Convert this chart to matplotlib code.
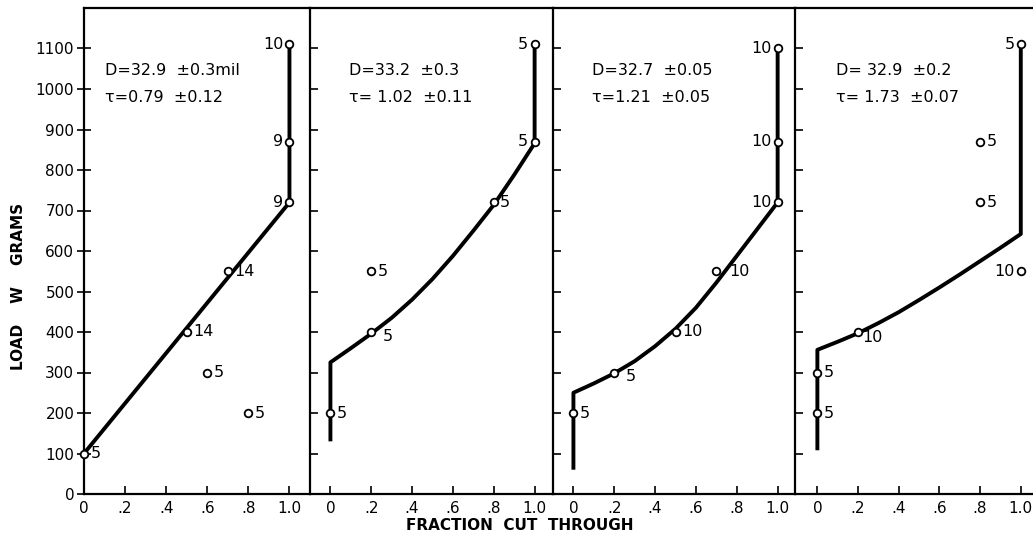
"""
Load vs. fraction cut through, four wire samples side by side.
"""
import matplotlib
matplotlib.use("Agg")
import matplotlib.pyplot as plt

# ── Data ─────────────────────────────────────────────────────────────────────
# panel 1: D=32.9 +-0.3 mil
P1_X = [0.0, 0.5, 0.7, 0.6, 0.8, 1.0, 1.0, 1.0]
P1_Y = [100, 400, 550, 300, 200, 720, 870, 1110]
P1_N = ["5", "14", "14", "5", "5", "9", "9", "10"]
P1_SIDE = ["r", "r", "r", "r", "r", "l", "l", "l"]
P1_LINE_X = [0.0, 1.0, 1.0]
P1_LINE_Y = [100, 720, 1110]
P1_TEXT = ["D=32.9  ±0.3mil", "τ=0.79  ±0.12"]

# panel 2
P2_X = [0.0, 0.2, 0.2, 0.8, 1.0, 1.0]
P2_Y = [200, 400, 550, 720, 870, 1110]
P2_N = ["5", "5", "5", "5", "5", "5"]
P2_SIDE = ["r", "rb", "r", "r", "l", "l"]
P2_LINE_X = [0.0, 0.0, 0.1, 0.2, 0.3, 0.4, 0.5, 0.6, 0.7, 0.8, 0.9, 1.0, 1.0]
P2_LINE_Y = [130, 325, 360, 396, 435, 480, 531, 588, 650, 714, 788, 866, 1110]
P2_TEXT = ["D=33.2  ±0.3", "τ= 1.02  ±0.11"]

# panel 3
P3_X = [0.0, 0.2, 0.5, 0.7, 1.0, 1.0, 1.0]
P3_Y = [200, 300, 400, 550, 720, 870, 1100]
P3_N = ["5", "5", "10", "10", "10", "10", "10"]
P3_SIDE = ["r", "rb", "r", "rr", "l", "l", "l"]
P3_LINE_X = [0.0, 0.0, 0.1, 0.2, 0.3, 0.4, 0.5, 0.6, 0.7, 0.8, 0.9, 1.0, 1.0]
P3_LINE_Y = [60, 250, 273, 298, 328, 365, 408, 460, 522, 588, 654, 720, 1100]
P3_TEXT = ["D=32.7  ±0.05", "τ=1.21  ±0.05"]

# panel 4
P4_X = [0.0, 0.0, 0.2, 0.8, 0.8, 1.0, 1.0]
P4_Y = [200, 300, 400, 720, 870, 550, 1110]
P4_N = ["5", "5", "10", "5", "5", "10", "5"]
P4_SIDE = ["r", "r", "rd", "r", "r", "l", "l"]
P4_LINE_X = [0.0, 0.0, 0.1, 0.2, 0.3, 0.4, 0.5, 0.6, 0.7, 0.8, 0.9, 1.0, 1.0]
P4_LINE_Y = [108, 356, 376, 397, 422, 449, 479, 510, 542, 575, 608, 642, 1110]
P4_TEXT = ["D= 32.9  ±0.2", "τ= 1.73  ±0.07"]

Y_TICKS = [0, 100, 200, 300, 400, 500, 600, 700, 800, 900, 1000, 1100]
X_TICKS = [0.0, 0.2, 0.4, 0.6, 0.8, 1.0]
X_TICK_LABELS = ["0", ".2", ".4", ".6", ".8", "1.0"]

PANELS = [
    (P1_X, P1_Y, P1_N, P1_SIDE, P1_LINE_X, P1_LINE_Y, P1_TEXT),
    (P2_X, P2_Y, P2_N, P2_SIDE, P2_LINE_X, P2_LINE_Y, P2_TEXT),
    (P3_X, P3_Y, P3_N, P3_SIDE, P3_LINE_X, P3_LINE_Y, P3_TEXT),
    (P4_X, P4_Y, P4_N, P4_SIDE, P4_LINE_X, P4_LINE_Y, P4_TEXT),
]

# ── Layout (pixel edges of each panel in the 1033x544 picture) ──────────────
W, H = 1033, 544
EDGES = [84, 310, 553, 795, 1033]
XLIMS = [(0.0, 1.10), (-0.10, 1.09), (-0.10, 1.085), (-0.11, 1.06)]
BOTTOM, TOP = 494, 8

plt.rcParams["font.family"] = "DejaVu Sans"
fig = plt.figure(figsize=(W / 100, H / 100), dpi=100)

# label offsets in points: right, left, right-down, right-below-curve, far right
OFFSETS = {"r": (4.5, 0), "l": (-4.5, 0), "rd": (3, -4),
           "rb": (8, -3), "rr": (9, 0)}

for i, (xs, ys, ns, sides, lx, ly, txt) in enumerate(PANELS):
    left = EDGES[i] / W
    width = (EDGES[i + 1] - EDGES[i]) / W
    ax = fig.add_axes([left, (H - BOTTOM) / H, width, (BOTTOM - TOP) / H])
    ax.set_xlim(*XLIMS[i])
    ax.set_ylim(0, 1200)

    ax.plot(lx, ly, color="black", lw=2.8, solid_capstyle="butt",
            solid_joinstyle="round", zorder=2)
    ax.plot(xs, ys, "o", ms=5.5, mfc="white", mec="black", mew=1.3,
            linestyle="none", zorder=3, clip_on=False)

    for x, y, n, s in zip(xs, ys, ns, sides):
        dx, dy = OFFSETS[s]
        ha = "right" if s == "l" else "left"
        ax.annotate(n, (x, y), xytext=(dx, dy), textcoords="offset points",
                    ha=ha, va="center", fontsize=11.5)

    tx = 0.09 if i else 0.10
    ax.text(tx, 1045, txt[0], fontsize=11.5, va="center")
    ax.text(tx, 978, txt[1], fontsize=11.5, va="center")

    for side in ["left", "top", "bottom"]:
        ax.spines[side].set_linewidth(1.6)
    ax.spines["right"].set_visible(False)

    ax.set_xticks(X_TICKS)
    ax.set_xticklabels(X_TICK_LABELS, fontsize=11)
    ax.tick_params(axis="x", direction="in", length=6, width=1.2, pad=5)
    ax.set_yticks(Y_TICKS)
    if i == 0:
        ax.set_yticklabels([str(v) for v in Y_TICKS], fontsize=11)
        ax.tick_params(axis="y", direction="inout", length=10, width=1.2, pad=2)
    else:
        ax.set_yticklabels([])
        ax.tick_params(axis="y", direction="in", length=6, width=1.2)

fig.text(19 / W, 1 - 286 / H, "LOAD    W    GRAMS", rotation=90, ha="center",
         va="center", fontsize=11, fontweight="bold")
fig.text(520 / W, 1 - 525 / H, "FRACTION  CUT  THROUGH", ha="center",
         va="center", fontsize=11, fontweight="bold")

fig.savefig("out.png", dpi=100)
